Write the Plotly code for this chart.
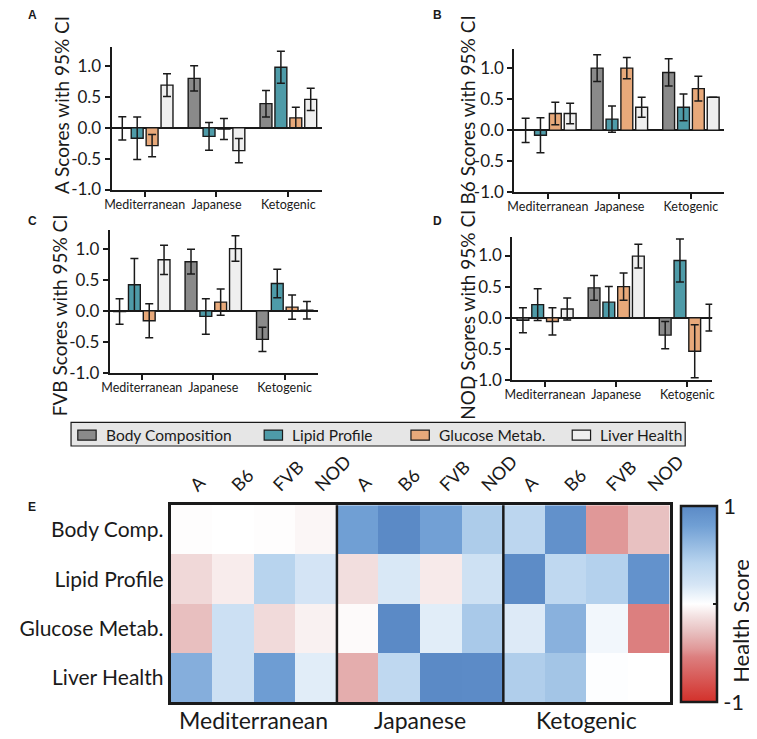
import plotly.graph_objects as go

W, H = 757, 739


def px(x):
    return x / W


def py(y):
    return 1 - y / H


# ---------------- data ----------------
diets = ["Mediterranean", "Japanese", "Ketogenic"]
categories = ["Body Composition", "Lipid Profile", "Glucose Metab.", "Liver Health"]
row_labels = ["Body Comp.", "Lipid Profile", "Glucose Metab.", "Liver Health"]
strains = ["A", "B6", "FVB", "NOD"]
ytick_vals = [-1, -0.5, 0, 0.5, 1]
ytick_text = ["-1.0", "-0.5", "0.0", "0.5", "1.0"]

# means per category (rows) x diet (cols)
A_means = [[-0.01, 0.80, 0.39], [-0.17, -0.14, 0.98], [-0.29, -0.02, 0.16], [0.69, -0.37, 0.46]]
A_ci = [[0.19, 0.205, 0.215], [0.345, 0.225, 0.26], [0.18, 0.17, 0.17], [0.185, 0.195, 0.18]]

B6_means = [[0.00, 1.00, 0.93], [-0.08, 0.18, 0.37], [0.27, 1.00, 0.67], [0.27, 0.37, 0.53]]
B6_ci = [[0.195, 0.215, 0.22], [0.28, 0.21, 0.215], [0.18, 0.17, 0.20], [0.165, 0.16, 0.0]]

FVB_means = [[-0.01, 0.79, -0.46], [0.42, -0.09, 0.44], [-0.16, 0.14, 0.06], [0.82, 1.00, 0.01]]
FVB_ci = [[0.205, 0.20, 0.195], [0.42, 0.285, 0.23], [0.275, 0.21, 0.195], [0.235, 0.205, 0.14]]

NOD_means = [[-0.04, 0.48, -0.28], [0.21, 0.25, 0.92], [-0.06, 0.50, -0.54], [0.14, 0.99, 0.00]]
NOD_ci = [[0.20, 0.20, 0.22], [0.255, 0.25, 0.345], [0.22, 0.22, 0.425], [0.175, 0.19, 0.215]]

# ---------------- styles ----------------
FONT = "Lato"
INK = "#1a1a1a"
bar_colors = ["#8a8a8a", "#4e9ba8", "#e8a97a", "#efefef"]

panels = [
    dict(letter="A", strain="A", means=A_means, ci=A_ci, xd=(99, 317), yd=(40, 184),
         xr=[-0.46, 2.47], title_xy=(47, 98), letter_xy=(17, 7)),
    dict(letter="B", strain="B6", means=B6_means, ci=B6_ci, xd=(516, 733), yd=(42, 187),
         xr=[-0.47, 2.46], title_xy=(468, 103), letter_xy=(437, 7)),
    dict(letter="C", strain="FVB", means=FVB_means, ci=FVB_ci, xd=(97, 313), yd=(225, 370),
         xr=[-0.45, 2.47], title_xy=(45, 311), letter_xy=(17, 216)),
    dict(letter="D", strain="NOD", means=NOD_means, ci=NOD_ci, xd=(514, 721), yd=(232, 377),
         xr=[-0.46, 2.35], title_xy=(468, 311), letter_xy=(437, 216)),
]

fig = go.Figure()
annotations = []
shapes = []
layout_axes = {}

for i, p in enumerate(panels):
    sfx = "" if i == 0 else str(i + 1)
    for k, cat in enumerate(categories):
        fig.add_trace(go.Bar(
            x=diets, y=p["means"][k], name=cat, showlegend=False,
            xaxis="x" + sfx, yaxis="y" + sfx, offsetgroup=str(k),
            marker=dict(color=bar_colors[k], line=dict(color=INK, width=1.4)),
            error_y=dict(type="data", array=p["ci"][k], visible=True,
                         color=INK, thickness=1.5, width=4),
        ))
    layout_axes["xaxis" + sfx] = dict(
        domain=[px(p["xd"][0]), px(p["xd"][1])], anchor="y" + sfx, type="category",
        range=p["xr"], showline=True, linecolor=INK, linewidth=2, ticks="outside",
        ticklen=5, tickwidth=2, tickcolor=INK, showgrid=False, zeroline=False,
        tickangle=0, tickfont=dict(size=12.5, color=INK), ticklabelstandoff=-3,
        fixedrange=True,
    )
    layout_axes["yaxis" + sfx] = dict(
        domain=[py(p["yd"][1]), py(p["yd"][0])], anchor="x" + sfx, range=[-1, 1.3],
        tickvals=ytick_vals, ticktext=ytick_text, showline=True, linecolor=INK,
        linewidth=2, ticks="outside", ticklen=5, tickwidth=2, tickcolor=INK,
        zeroline=True, zerolinecolor=INK, zerolinewidth=2, showgrid=False,
        tickfont=dict(size=17, color=INK), fixedrange=True,
    )
    annotations.append(dict(
        x=px(p["title_xy"][0]), y=py(p["title_xy"][1]), xref="paper", yref="paper",
        text=p["strain"] + " Scores with 95% CI", textangle=-90, showarrow=False,
        font=dict(size=19, color=INK), xanchor="center", yanchor="middle",
    ))
    annotations.append(dict(
        x=px(p["letter_xy"][0]), y=py(p["letter_xy"][1]), xref="paper", yref="paper",
        text="<b>" + p["letter"] + "</b>", showarrow=False,
        font=dict(size=12, color=INK, family="Liberation Sans"),
        xanchor="center", yanchor="middle",
    ))

# ---------------- custom legend ----------------
shapes.append(dict(type="rect", xref="paper", yref="paper",
                   x0=px(57), x1=px(693), y0=py(444), y1=py(420),
                   fillcolor="#e6e6e6", line=dict(color=INK, width=1.2), layer="below"))
legend_x = [64, 257, 409, 576]
for k, cat in enumerate(categories):
    x0 = legend_x[k]
    shapes.append(dict(type="rect", xref="paper", yref="paper",
                       x0=px(x0), x1=px(x0 + 19), y0=py(438), y1=py(428),
                       fillcolor=bar_colors[k], line=dict(color=INK, width=1.2)))
    annotations.append(dict(
        x=px(x0 + 27), y=py(433), xref="paper", yref="paper", text=cat,
        showarrow=False, xanchor="left", yanchor="middle",
        font=dict(size=15.5, color=INK),
    ))

# ---------------- heatmap ----------------
all_means = [A_means, B6_means, FVB_means, NOD_means]
z = [[all_means[s][r][d] for d in range(len(diets)) for s in range(len(strains))]
     for r in range(len(row_labels))]
col_ticktext = strains * len(diets)

colorscale = [
    [0.00, "#d3302a"],
    [0.23, "#dc7f7f"],
    [0.27, "#e09898"],
    [0.36, "#e8c1c1"],
    [0.43, "#f2dede"],
    [0.50, "#ffffff"],
    [0.57, "#e1edf8"],
    [0.60, "#d5e5f5"],
    [0.71, "#b8d4ee"],
    [0.90, "#709fd4"],
    [1.00, "#5b8ac6"],
]

fig.add_trace(go.Heatmap(
    z=z, x=list(range(len(col_ticktext))), y=row_labels, xaxis="x5", yaxis="y5",
    colorscale=colorscale, zmin=-1, zmax=1, hoverongaps=False,
    colorbar=dict(
        x=px(689), xanchor="left", xpad=0, ypad=0, thickness=36, thicknessmode="pixels",
        len=199 / H, lenmode="fraction", y=py(604), yanchor="middle",
        outlinewidth=2.5, outlinecolor=INK, tickvals=[-1, 0, 1], ticktext=["-1", "", "1"],
        ticks="inside", ticklen=5, tickwidth=2, tickcolor=INK,
        tickfont=dict(size=22, color=INK),
    ),
))

layout_axes["xaxis5"] = dict(
    domain=[px(160), px(677)], anchor="y5", side="top", range=[-0.5, 11.5],
    tickvals=list(range(len(col_ticktext))), ticktext=col_ticktext, tickangle=-45,
    tickfont=dict(size=18, color=INK), showline=True, mirror=True, linecolor=INK,
    linewidth=2.5, showgrid=False, zeroline=False, ticks="", fixedrange=True,
)
layout_axes["yaxis5"] = dict(
    domain=[py(704), py(504)], anchor="x5", autorange="reversed", type="category",
    tickfont=dict(size=21, color=INK), showline=True, mirror=True, linecolor=INK,
    linewidth=2.5, showgrid=False, zeroline=False, ticks="", fixedrange=True,
)

for xb in [3.5, 7.5]:
    shapes.append(dict(type="line", xref="x5", yref="y5 domain", x0=xb, x1=xb, y0=0, y1=1,
                       line=dict(color=INK, width=2.5)))
# left-side middle tick mark on colorbar
shapes.append(dict(type="line", xref="paper", yref="paper", x0=px(690), x1=px(695),
                   y0=py(604), y1=py(604), line=dict(color=INK, width=2)))

group_centers = [1.5, 5.5, 9.5]
for d, name in enumerate(diets):
    annotations.append(dict(
        x=group_centers[d], y=py(722), xref="x5", yref="paper", text=name,
        showarrow=False, xanchor="center", yanchor="middle",
        font=dict(size=23, color=INK),
    ))

annotations.append(dict(
    x=px(750), y=py(621), xref="paper", yref="paper", text="Health Score",
    textangle=-90, showarrow=False, xanchor="center", yanchor="middle",
    font=dict(size=22, color=INK),
))
annotations.append(dict(
    x=px(17), y=py(506), xref="paper", yref="paper", text="<b>E</b>",
    showarrow=False, xanchor="center", yanchor="middle",
    font=dict(size=12, color=INK, family="Liberation Sans"),
))

fig.update_layout(
    width=W, height=H, margin=dict(l=0, r=0, t=0, b=0),
    paper_bgcolor="white", plot_bgcolor="white",
    font=dict(family=FONT, color=INK),
    barmode="group", bargap=0.17, bargroupgap=0.2,
    showlegend=False, annotations=annotations, shapes=shapes,
    **layout_axes,
)

fig.write_html("out.html")
